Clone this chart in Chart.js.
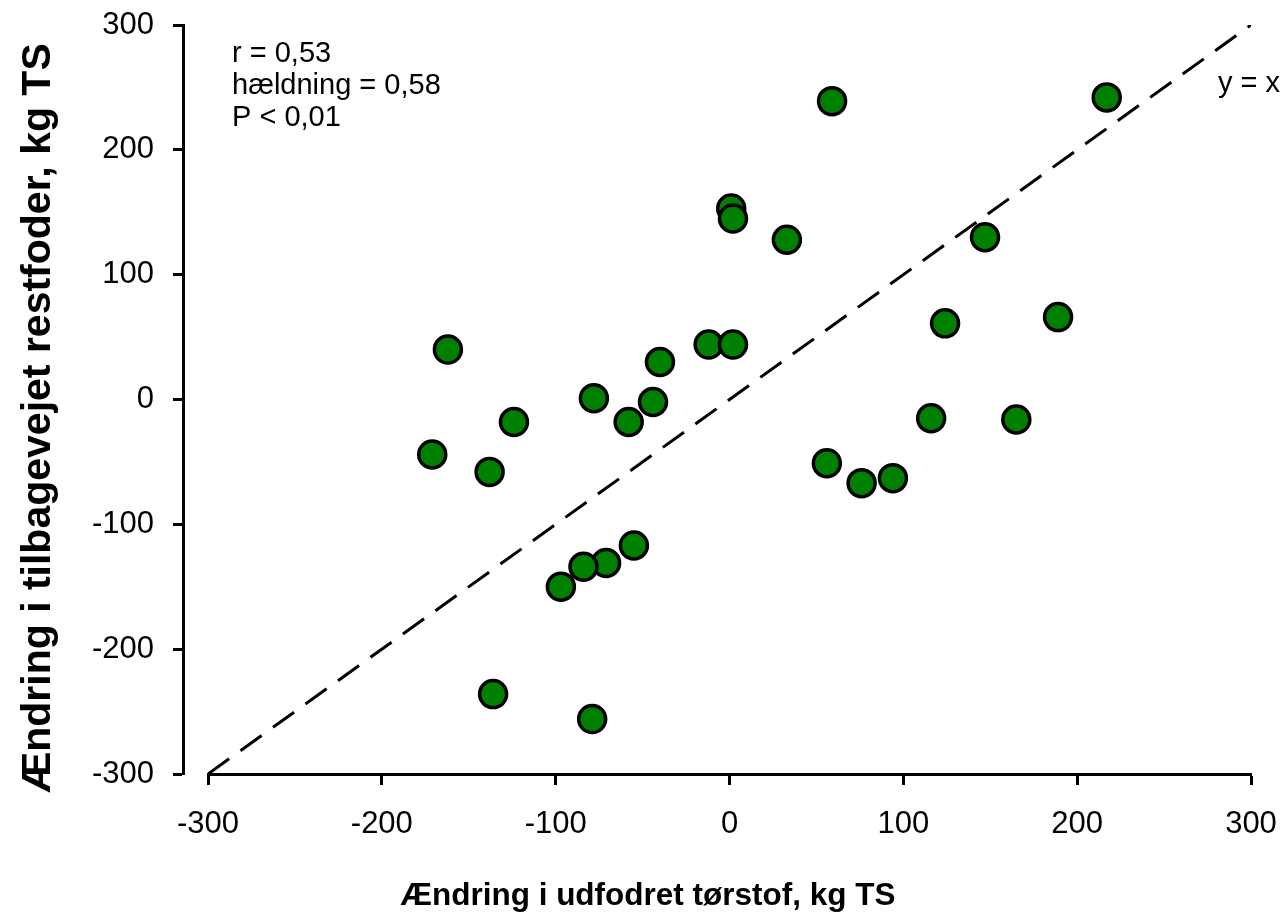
<!DOCTYPE html>
<html>
<head>
<meta charset="utf-8">
<script src="https://cdn.jsdelivr.net/npm/chart.js@4"></script>
<style>
  html, body { margin: 0; padding: 0; background: #fff; }
  canvas { display: block; }
</style>
</head>
<body>
<canvas id="chart" width="1286" height="915"></canvas>
<script>
// ændring i udfodret TS (x) mod ændring i tilbagevejet restfoder (y), kg TS
var xValues = [-162, -124, -171, -138, -78, -40, -44, -58, -12, 2,
               -55, -71, -84, -97, -136, -79,
               59, 217, 33, 147, 124, 189, 116, 165, 56, 76, 94, 1, 2];
var yValues = [40, -18, -44, -58, 1, 30, -2, -18, 44, 44,
               -117, -131, -134, -150, -236, -256,
               239, 242, 128, 130, 61, 66, -15, -16, -51, -67, -63, 153, 145];

var refLine = [-300, 300];   // y = x
var tickValues = [-300, -200, -100, 0, 100, 200, 300];
var statsText = ["r = 0,53", "hældning = 0,58", "P < 0,01"];
var refLabel = "y = x";
var xTitle = "Ændring i udfodret tørstof, kg TS";
var yTitle = "Ændring i tilbagevejet restfoder, kg TS";

var FONT = '"Liberation Sans", Arial, sans-serif';

function init() {
  var points = xValues.map(function (x, i) { return { x: x, y: yValues[i] }; });
  var line = refLine.map(function (v) { return { x: v, y: v }; });

  var setTicks = function (scale) {
    scale.ticks = tickValues.map(function (v) { return { value: v }; });
  };
  // fast størrelse på akserne, ingen ekstra luft fra tick-labels
  var fixSize = function (w, h) {
    return function (s) {
      if (w) s.width = w;
      if (h) s.height = h;
      s.paddingTop = s.paddingBottom = s.paddingLeft = s.paddingRight = 0;
    };
  };

  // y-aksen står et stykke til venstre for plotområdet, titler og tekst tegnes her
  var sigmaPlot = {
    id: 'sigmaPlot',
    afterLayout: function (chart) {
      var y = chart.scales.y;
      y.left -= 25;
      y.right -= 25;
    },
    afterDraw: function (chart) {
      var ctx = chart.ctx, a = chart.chartArea;
      ctx.save();
      ctx.fillStyle = '#000';
      ctx.textBaseline = 'alphabetic';

      ctx.font = '29px ' + FONT;
      ctx.textAlign = 'left';
      statsText.forEach(function (t, i) {
        ctx.fillText(t, a.left + 24, a.top + 37 + i * 32);
      });
      ctx.textAlign = 'right';
      ctx.fillText(refLabel, chart.width - 6, a.top + 67);

      ctx.font = 'bold 31.5px ' + FONT;
      ctx.textAlign = 'center';
      ctx.fillText(xTitle, 648, 905);

      ctx.translate(50, 418);
      ctx.rotate(-Math.PI / 2);
      ctx.font = 'bold 41px ' + FONT;
      ctx.fillText(yTitle, 0, 0);
      ctx.restore();
    }
  };

  new Chart(document.getElementById('chart'), {
    type: 'scatter',
    data: {
      datasets: [
        {
          data: points,
          backgroundColor: '#008000',
          borderColor: '#000',
          borderWidth: 3.5,
          pointRadius: 13.5,
          pointHoverRadius: 13.5
        },
        {
          type: 'line',
          data: line,
          borderColor: '#000',
          borderWidth: 3,
          borderDash: [26, 14],
          pointRadius: 0,
          fill: false
        }
      ]
    },
    options: {
      responsive: false,
      animation: false,
      devicePixelRatio: 1,
      layout: { padding: { top: 25, right: 35, bottom: 0, left: 0 } },
      plugins: {
        legend: { display: false },
        tooltip: { enabled: false }
      },
      scales: {
        x: {
          type: 'linear',
          min: -300,
          max: 300,
          afterBuildTicks: setTicks,
          afterFit: fixSize(0, 141),
          border: { display: true, color: '#000', width: 3 },
          grid: { drawOnChartArea: false, drawTicks: true, tickLength: 11, tickWidth: 3, tickColor: '#000' },
          ticks: { color: '#000', font: { family: FONT, size: 31 }, padding: 21, maxRotation: 0 }
        },
        y: {
          type: 'linear',
          min: -300,
          max: 300,
          afterBuildTicks: setTicks,
          afterFit: fixSize(208, 0),
          border: { display: true, color: '#000', width: 3 },
          grid: { drawOnChartArea: false, drawTicks: true, tickLength: 10, tickWidth: 3, tickColor: '#000' },
          ticks: { color: '#000', font: { family: FONT, size: 31 }, padding: 19 }
        }
      }
    },
    plugins: [sigmaPlot]
  });
}
window.addEventListener('load', init);
</script>
</body>
</html>
